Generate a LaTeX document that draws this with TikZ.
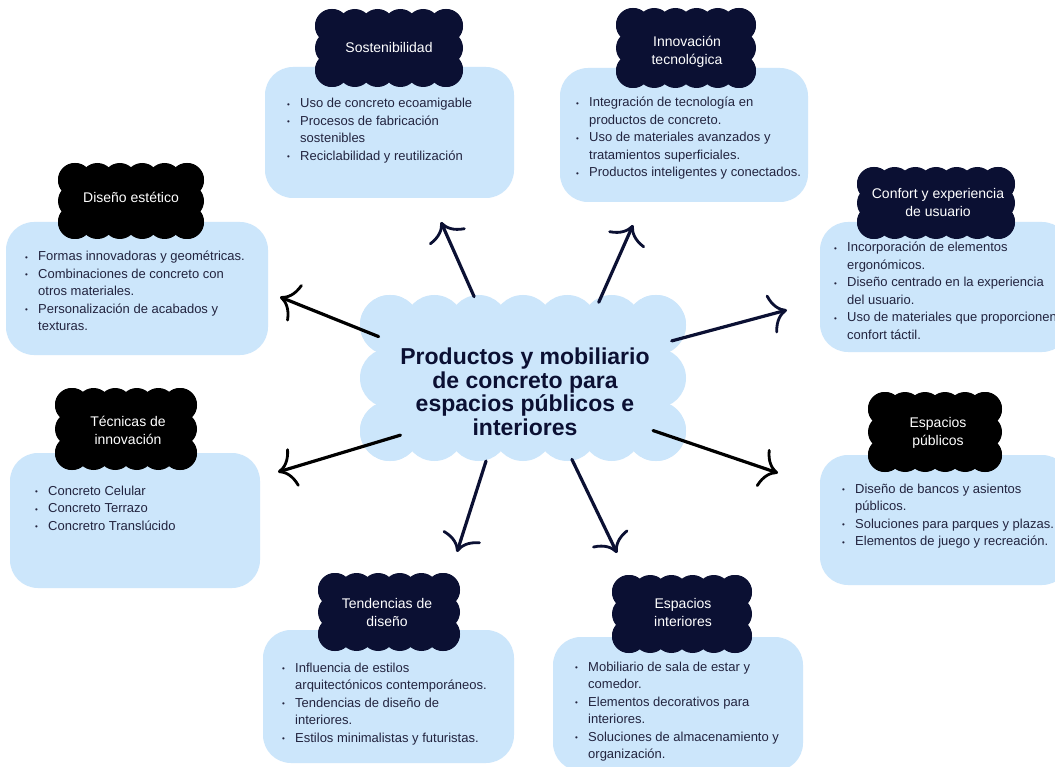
\documentclass[tikz,border=0pt]{standalone}
\usepackage{fontspec}
\setmainfont{Liberation Sans}
\usetikzlibrary{arrows.meta,shapes.geometric}
\definecolor{boxblue}{HTML}{CCE6FB}
\definecolor{navy}{HTML}{0B1033}
\definecolor{txt}{HTML}{22243F}
\newcommand\bl{\makebox[13pt][l]{\raisebox{0.5pt}{\fontsize{8}{8}\selectfont\textbullet}}}
\newcommand\puffcloud[8]{%
  \pgfmathsetmacro\pcxa{#1-#3/2+#5}%
  \pgfmathsetmacro\pcxb{#1+#3/2-#5}%
  \pgfmathsetmacro\pcya{#2-#4/2+#5}%
  \pgfmathsetmacro\pcyb{#2+#4/2-#5}%
  \fill[#8] (\pcxa,\pcya) rectangle (\pcxb,\pcyb);
  \foreach \k in {0,...,#6}{%
    \pgfmathsetmacro\pxx{\pcxa+(\pcxb-\pcxa)*\k/#6}%
    \fill[#8] (\pxx,\pcya) circle[radius=#5] (\pxx,\pcyb) circle[radius=#5];}
  \foreach \k in {0,...,#7}{%
    \pgfmathsetmacro\pyy{\pcya+(\pcyb-\pcya)*\k/#7}%
    \fill[#8] (\pcxa,\pyy) circle[radius=#5] (\pcxb,\pyy) circle[radius=#5];}
}
\tikzset{
  infobox/.style={fill=boxblue, rounded corners=28pt, inner sep=0pt},
  listtext/.style={inner sep=0pt, anchor=base west, text=txt, font=\fontsize{13}{17.5}\selectfont},
  cloudtext/.style={inner sep=0pt, text=white, align=center, font=\fontsize{14}{18}\selectfont},
  arr/.style={line width=3.2pt, line cap=round, -{To[length=17pt,width=40pt,line width=2.8pt]}},
}
\begin{document}
\begin{tikzpicture}[x=1pt,y=-1pt]
\useasboundingbox (0,0) rectangle (1055,767);
\fill[white] (0,0) rectangle (1055,767);

% info boxes
\node[infobox, minimum width=249pt, minimum height=131pt] (b1) at (389.5,132.5) {};
\node[infobox, minimum width=248pt, minimum height=134pt] (b2) at (684,135) {};
\node[infobox, minimum width=262pt, minimum height=133pt] (b3) at (137,288.5) {};
\node[infobox, minimum width=250pt, minimum height=130pt] (b4) at (945,287) {};
\node[infobox, minimum width=250pt, minimum height=135pt] (b5) at (135,520.5) {};
\node[infobox, minimum width=250pt, minimum height=130pt] (b6) at (945,520) {};
\node[infobox, minimum width=251pt, minimum height=133pt] (b7) at (388.5,696.5) {};
\node[infobox, minimum width=250pt, minimum height=134pt] (b8) at (678,704) {};

% lists
\node[listtext] (l1) at (287,108) {\begin{tabular}[t]{@{}l@{}l@{}}
\bl & Uso de concreto ecoamigable\\
\bl & Procesos de fabricación\\
 & sostenibles\\
\bl & Reciclabilidad y reutilización\end{tabular}};
\node[listtext] (l2) at (576,107) {\begin{tabular}[t]{@{}l@{}l@{}}
\bl & Integración de tecnología en\\
 & productos de concreto.\\
\bl & Uso de materiales avanzados y\\
 & tratamientos superficiales.\\
\bl & Productos inteligentes y conectados.\end{tabular}};
\node[listtext] (l3) at (25,261) {\begin{tabular}[t]{@{}l@{}l@{}}
\bl & Formas innovadoras y geométricas.\\
\bl & Combinaciones de concreto con\\
 & otros materiales.\\
\bl & Personalización de acabados y\\
 & texturas.\end{tabular}};
\node[listtext] (l4) at (834,252) {\begin{tabular}[t]{@{}l@{}l@{}}
\bl & Incorporación de elementos\\
 & ergonómicos.\\
\bl & Diseño centrado en la experiencia\\
 & del usuario.\\
\bl & Uso de materiales que proporcionen\\
 & confort táctil.\end{tabular}};
\node[listtext] (l5) at (35,495) {\begin{tabular}[t]{@{}l@{}l@{}}
\bl & Concreto Celular\\
\bl & Concreto Terrazo\\
\bl & Concretro Translúcido\end{tabular}};
\node[listtext] (l6) at (842,493) {\begin{tabular}[t]{@{}l@{}l@{}}
\bl & Diseño de bancos y asientos\\
 & públicos.\\
\bl & Soluciones para parques y plazas.\\
\bl & Elementos de juego y recreación.\end{tabular}};
\node[listtext] (l7) at (282,672) {\begin{tabular}[t]{@{}l@{}l@{}}
\bl & Influencia de estilos\\
 & arquitectónicos contemporáneos.\\
\bl & Tendencias de diseño de\\
 & interiores.\\
\bl & Estilos minimalistas y futuristas.\end{tabular}};
\node[listtext] (l8) at (575,671) {\begin{tabular}[t]{@{}l@{}l@{}}
\bl & Mobiliario de sala de estar y\\
 & comedor.\\
\bl & Elementos decorativos para\\
 & interiores.\\
\bl & Soluciones de almacenamiento y\\
 & organización.\end{tabular}};

% title clouds
\puffcloud{389}{48}{148}{78}{17}{5}{2}{navy}
\node[cloudtext] (c1) at (389,47) {Sostenibilidad};
\puffcloud{686}{48}{140}{80}{17}{5}{2}{navy}
\node[cloudtext] (c2) at (687,52) {Innovación\\tecnológica};
\puffcloud{131}{201}{146}{76}{17}{5}{2}{black}
\node[cloudtext] (c3) at (131,197) {Diseño estético};
\puffcloud{936}{203}{158}{72}{17}{6}{2}{navy}
\node[cloudtext] (c4) at (938,202) {Confort y experiencia\\de usuario};
\puffcloud{126}{429}{142}{82}{17}{5}{2}{black}
\node[cloudtext] (c5) at (128,430) {Técnicas de\\innovación};
\puffcloud{935}{432}{134}{80}{17}{5}{2}{black}
\node[cloudtext] (c6) at (938,433) {Espacios\\públicos};
\puffcloud{389}{612}{142}{78}{17}{5}{2}{navy}
\node[cloudtext] (c7) at (387,612) {Tendencias de\\diseño};
\puffcloud{682}{614}{140}{78}{17}{5}{2}{navy}
\node[cloudtext] (c8) at (683,612) {Espacios\\interiores};

% central cloud
\puffcloud{523}{378}{326}{166}{30}{6}{2}{boxblue}
\node[ellipse, minimum width=330pt, minimum height=170pt, inner sep=0pt] (center) at (523,378) {};
\node[inner sep=0pt, align=center, text=navy, font=\bfseries\fontsize{23}{23.5}\selectfont] (ctext) at (525,392) {Productos y mobiliario\\de concreto para\\espacios públicos e\\interiores};

% arrow ends
\coordinate (t1) at (441,222);
\coordinate (t2) at (280,297);
\coordinate (t3) at (633,225);
\coordinate (t4) at (787,310);
\coordinate (t5) at (278,472);
\coordinate (t6) at (457,552);
\coordinate (t7) at (617,553);
\coordinate (t8) at (778,473);

\draw[arr, navy] (center.121.7) -- (t1);
\draw[arr, black] (center.164) -- (t2);
\draw[arr, navy] (center.45) -- (t3);
\draw[arr, navy] (center.14.5) -- (t4);
\draw[arr, black] (center.205) -- (t5);
\draw[arr, navy] (center.246) -- (t6);
\draw[arr, navy] (center.301.8) -- (t7);
\draw[arr, black] (center.338.5) -- (t8);
\end{tikzpicture}
\end{document}
